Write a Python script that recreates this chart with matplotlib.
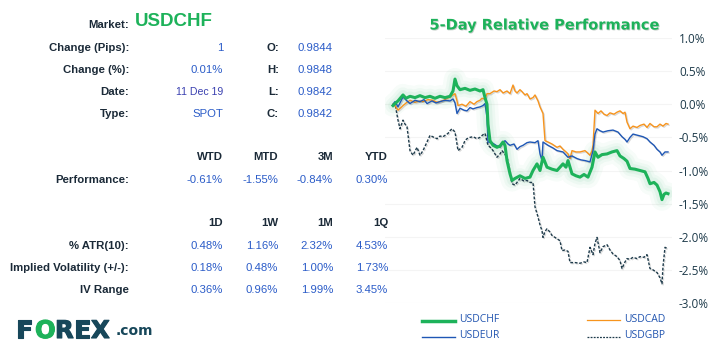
import matplotlib
matplotlib.use("Agg")
import matplotlib.pyplot as plt
import matplotlib.patheffects as pe

W, H = 717, 356

# ---- table data ----
market = "USDCHF"
info_labels = ["Change (Pips):", "Change (%):", "Date:", "Type:"]
info_values = ["1", "0.01%", "11 Dec 19", "SPOT"]
ohlc_labels = ["O:", "H:", "L:", "C:"]
ohlc_values = ["0.9844", "0.9848", "0.9842", "0.9842"]

perf_headers = ["WTD", "MTD", "3M", "YTD"]
perf_values = ["-0.61%", "-1.55%", "-0.84%", "0.30%"]

vol_headers = ["1D", "1W", "1M", "1Q"]
vol_labels = ["% ATR(10):", "Implied Volatility (+/-):", "IV Range"]
vol_values = [
    ["0.48%", "1.16%", "2.32%", "4.53%"],
    ["0.18%", "0.48%", "1.00%", "1.73%"],
    ["0.36%", "0.96%", "1.99%", "3.45%"],
]

# ---- 5-day relative performance (time index, % change) ----
chf_t = [0, 2, 5, 10, 13, 17, 22, 27, 32, 37, 42, 47, 52, 57, 60, 62, 64, 67, 72, 77,
         82, 87, 90, 92, 94, 95, 97, 100, 104, 107, 110, 112, 114, 117, 119, 122, 127,
         132, 137, 140, 144, 147, 150, 154, 159, 164, 167, 170, 173, 175, 179, 183, 187,
         191, 195, 199, 202, 205, 209, 214, 219, 224, 227, 231, 234, 237, 242, 247, 252,
         255, 257, 261, 264, 267, 269, 271, 273, 275]
chf_v = [-0.02, 0.01, 0.05, 0.14, 0.09, 0.12, 0.10, 0.13, 0.10, 0.12, 0.09, 0.12, 0.10,
         0.12, 0.20, 0.38, 0.28, 0.22, 0.24, 0.21, 0.23, 0.20, 0.22, 0.10, 0.00, -0.30,
         -0.55, -0.62, -0.65, -0.63, -0.57, -0.62, -0.85, -1.05, -1.15, -1.12, -1.08,
         -1.12, -1.10, -1.00, -0.90, -1.00, -0.80, -0.95, -0.98, -1.00, -0.95, -0.90,
         -0.95, -0.85, -1.05, -1.08, -1.10, -1.06, -1.10, -0.95, -0.72, -0.80, -0.76,
         -0.75, -0.72, -0.70, -0.78, -0.82, -0.86, -0.97, -0.98, -1.00, -1.02, -1.12,
         -1.20, -1.18, -1.22, -1.32, -1.44, -1.36, -1.34, -1.35]

eur_t = [0, 2, 5, 10, 14, 17, 22, 27, 31, 34, 39, 43, 47, 52, 57, 60, 62, 64, 67, 71,
         74, 77, 80, 84, 87, 90, 92, 94, 95, 99, 103, 107, 110, 112, 115, 117, 121, 124,
         127, 130, 134, 137, 142, 145, 147, 149, 150, 155, 160, 164, 170, 175, 179, 184,
         188, 192, 197, 200, 202, 204, 207, 210, 215, 220, 225, 229, 232, 234, 237, 240,
         245, 250, 254, 257, 261, 264, 267, 269, 272, 275]
eur_v = [0.00, 0.04, -0.04, 0.11, 0.05, 0.01, 0.06, 0.04, 0.07, 0.01, 0.05, 0.02, 0.04,
         0.06, 0.05, 0.08, 0.02, -0.14, -0.06, -0.09, -0.10, -0.05, -0.07, -0.05, -0.04,
         -0.02, 0.01, -0.20, -0.57, -0.58, -0.62, -0.65, -0.58, -0.55, -0.60, -0.62,
         -0.60, -0.68, -0.64, -0.62, -0.58, -0.57, -0.58, -0.55, -0.75, -0.85, -0.57,
         -0.62, -0.66, -0.70, -0.72, -0.80, -0.78, -0.82, -0.84, -0.85, -0.87, -0.70,
         -0.45, -0.37, -0.40, -0.42, -0.40, -0.39, -0.42, -0.49, -0.53, -0.57, -0.50,
         -0.45, -0.47, -0.49, -0.52, -0.57, -0.62, -0.68, -0.72, -0.77, -0.72, -0.72]

cad_t = [0, 2, 5, 8, 10, 14, 17, 22, 27, 30, 35, 40, 44, 47, 52, 57, 60, 62, 64, 65,
         69, 73, 77, 81, 84, 87, 89, 92, 94, 97, 101, 104, 107, 110, 114, 117, 120, 122,
         124, 127, 129, 132, 134, 137, 140, 142, 145, 147, 150, 152, 155, 159, 164, 167,
         170, 173, 175, 177, 179, 183, 187, 192, 195, 197, 199, 200, 202, 205, 208, 211,
         214, 217, 221, 224, 227, 230, 232, 234, 237, 240, 244, 247, 251, 254, 257, 261,
         264, 267, 270, 273, 275]
cad_v = [0.00, -0.02, -0.09, -0.05, -0.02, 0.03, 0.06, 0.03, 0.05, 0.04, 0.07, 0.06,
         0.03, 0.04, 0.07, 0.11, 0.14, 0.16, 0.05, -0.02, 0.00, -0.03, 0.04, 0.00, 0.04,
         0.06, 0.09, 0.08, 0.16, 0.16, 0.20, 0.19, 0.22, 0.17, 0.20, 0.16, 0.29, 0.20,
         0.17, 0.22, 0.19, 0.14, 0.16, 0.08, 0.10, 0.14, 0.05, -0.04, -0.14, -0.55,
         -0.57, -0.60, -0.65, -0.63, -0.68, -0.72, -0.75, -0.82, -0.70, -0.72, -0.72,
         -0.70, -0.74, -0.77, -0.70, -0.62, -0.09, -0.14, -0.10, -0.15, -0.17, -0.13,
         -0.15, -0.12, -0.10, -0.14, -0.12, -0.27, -0.37, -0.33, -0.35, -0.32, -0.30,
         -0.35, -0.29, -0.34, -0.34, -0.30, -0.33, -0.29, -0.30]

gbp_t = [0, 2, 5, 7, 10, 12, 14, 17, 20, 24, 27, 30, 34, 37, 41, 44, 47, 50, 53, 55,
         57, 59, 62, 64, 65, 69, 72, 74, 77, 80, 84, 87, 90, 92, 95, 98, 100, 104, 107,
         109, 112, 114, 116, 119, 122, 125, 127, 131, 134, 137, 140, 142, 145, 147, 149,
         150, 152, 154, 157, 159, 163, 167, 169, 172, 175, 177, 182, 187, 191, 194, 197,
         200, 202, 204, 207, 210, 214, 217, 220, 224, 227, 229, 232, 234, 237, 240, 244,
         247, 251, 254, 257, 260, 264, 267, 269, 270, 272, 275]
gbp_v = [0.00, 0.01, -0.24, -0.37, -0.24, -0.30, -0.34, -0.70, -0.77, -0.65, -0.77,
         -0.70, -0.57, -0.47, -0.50, -0.52, -0.48, -0.49, -0.46, -0.44, -0.40, -0.37,
         -0.42, -0.60, -0.70, -0.65, -0.55, -0.52, -0.50, -0.49, -0.52, -0.50, -0.46,
         -0.44, -0.62, -0.66, -0.70, -0.80, -0.75, -0.70, -0.76, -0.80, -0.95, -1.20,
         -1.22, -1.16, -1.12, -1.16, -1.15, -1.18, -1.18, -1.55, -1.70, -1.82, -1.91,
         -2.01, -1.92, -1.88, -1.93, -1.98, -2.02, -2.06, -2.21, -2.20, -2.22, -2.39,
         -2.39, -2.40, -2.38, -2.39, -2.16, -2.27, -2.10, -2.01, -2.24, -2.15, -2.12,
         -2.20, -2.26, -2.30, -2.36, -2.48, -2.38, -2.33, -2.34, -2.31, -2.33, -2.30,
         -2.31, -2.27, -2.48, -2.50, -2.54, -2.62, -2.71, -2.45, -2.16, -2.18]

yticks = [1.0, 0.5, 0.0, -0.5, -1.0, -1.5, -2.0, -2.5, -3.0]

GREEN = "#1db25a"
BLUE = "#1f57b5"
ORANGE = "#f7941d"
DARK = "#1d3a4a"
VAL = "#2b5cc8"
LBL = "#1b2a38"
LOGO = "#17475a"


def fx(px):
    return px / W


def fy(py):
    return 1 - py / H


fig = plt.figure(figsize=(W / 100, H / 100), dpi=100)
fig.patch.set_facecolor("white")

tfont = "Liberation Sans"

# ---- left table ----
fig.text(fx(129), fy(25), "Market:", ha="right", va="center", fontsize=8.2,
         fontweight="bold", color=LBL, family=tfont)
fig.text(fx(135), fy(21), market, ha="left", va="center", fontsize=13.5,
         fontweight="bold", color=GREEN, family=tfont)

for i in range(4):
    y = fy(48 + i * 22)
    fig.text(fx(129), y, info_labels[i], ha="right", va="center", fontsize=8.2,
             fontweight="bold", color=LBL, family=tfont)
    fs = 7.6 if i == 2 else 8.2
    col = "#3a40b0" if i == 2 else VAL
    fig.text(fx(223), y, info_values[i], ha="right", va="center", fontsize=fs,
             color=col, family=tfont)
    fig.text(fx(279), y, ohlc_labels[i], ha="right", va="center", fontsize=8.2,
             fontweight="bold", color=LBL, family=tfont)
    fig.text(fx(333), y, ohlc_values[i], ha="right", va="center", fontsize=8.2,
             color=VAL, family=tfont)

col_x = [223, 278, 333, 388]
for j in range(4):
    fig.text(fx(col_x[j]), fy(157), perf_headers[j], ha="right", va="center",
             fontsize=8.2, fontweight="bold", color=LBL, family=tfont)
    fig.text(fx(col_x[j]), fy(180), perf_values[j], ha="right", va="center",
             fontsize=8.2, color=VAL, family=tfont)
fig.text(fx(129), fy(180), "Performance:", ha="right", va="center", fontsize=8.2,
         fontweight="bold", color=LBL, family=tfont)

for j in range(4):
    fig.text(fx(col_x[j]), fy(223), vol_headers[j], ha="right", va="center",
             fontsize=8.2, fontweight="bold", color=LBL, family=tfont)
for i in range(3):
    y = fy(246 + i * 22)
    fig.text(fx(129), y, vol_labels[i], ha="right", va="center", fontsize=8.2,
             fontweight="bold", color=LBL, family=tfont)
    for j in range(4):
        fig.text(fx(col_x[j]), y, vol_values[i][j], ha="right", va="center",
                 fontsize=8.2, color=VAL, family=tfont)

# logo, one letter at a time
logo_y = fy(331)
for x, ch, c in [(16, "F", LOGO), (35, "O", GREEN), (55, "R", LOGO),
                 (74, "E", LOGO), (91, "X", LOGO)]:
    fig.text(fx(x), logo_y, ch, ha="left", va="center", fontsize=17.5,
             fontweight="heavy", color=c, family="DejaVu Sans",
             path_effects=[pe.withStroke(linewidth=0.8, foreground=c)])
fig.text(fx(116), fy(331), ".com", ha="left", va="center", fontsize=10,
         fontweight="bold", color=LOGO, family="DejaVu Sans")

# ---- chart ----
fig.text(fx(545), fy(25), "5-Day Relative Performance", ha="center", va="center",
         fontsize=10.5, fontweight="bold", color=GREEN, family="DejaVu Sans",
         path_effects=[pe.withSimplePatchShadow(offset=(0.6, -0.6), alpha=0.25)])

ax = fig.add_axes([fx(385), fy(303), fx(672 - 385), (303 - 38) / H])
ax.set_xlim(-8, 279)
ax.set_ylim(-3.0, 1.0)
for s in ax.spines.values():
    s.set_visible(False)
ax.set_xticks([])
ax.set_yticks(yticks)
ax.yaxis.tick_right()
ax.tick_params(axis="y", length=0, pad=5, labelsize=8.5, labelcolor="#1d3a4a")
ax.set_yticklabels([f"{v:.1f}%" for v in yticks], family="Open Sans", ha="left")
ax.grid(axis="y", color="#f4f4f4", linewidth=0.8)
ax.set_axisbelow(True)

# glow under CHF
for lw, a in [(16, 0.035), (11, 0.045), (7, 0.06)]:
    ax.plot(chf_t, chf_v, color=GREEN, lw=lw, alpha=a, solid_capstyle="round",
            solid_joinstyle="round")
shadow = [pe.SimpleLineShadow(offset=(0.8, -0.8), alpha=0.15), pe.Normal()]
ax.plot(gbp_t, gbp_v, color=DARK, lw=1.0, dashes=(2, 1.2), path_effects=shadow)
ax.plot(cad_t, cad_v, color=ORANGE, lw=1.0, path_effects=shadow)
ax.plot(eur_t, eur_v, color=BLUE, lw=1.0, path_effects=shadow)
ax.plot(chf_t, chf_v, color=GREEN, lw=2.2, solid_joinstyle="round")

# legend
leg = fig.add_axes([0, 0, 1, 1])
leg.set_xlim(0, W)
leg.set_ylim(H, 0)
leg.axis("off")
leg.plot([422, 455], [321, 321], color=GREEN, lw=2.5)
leg.plot([587, 620], [320, 320], color=ORANGE, lw=0.9)
leg.plot([422, 455], [337, 337], color=BLUE, lw=1.0)
leg.plot([587, 620], [337, 337], color=DARK, lw=0.9, dashes=(1.5, 1))
for x, y, s in [(459, 320, "USDCHF"), (624, 320, "USDCAD"),
                (459, 336, "USDEUR"), (624, 336, "USDGBP")]:
    leg.text(x, y, s, ha="left", va="center", fontsize=7.5, color="#2255b0",
             family="Open Sans")

fig.savefig("out.png", dpi=100, facecolor="white")
